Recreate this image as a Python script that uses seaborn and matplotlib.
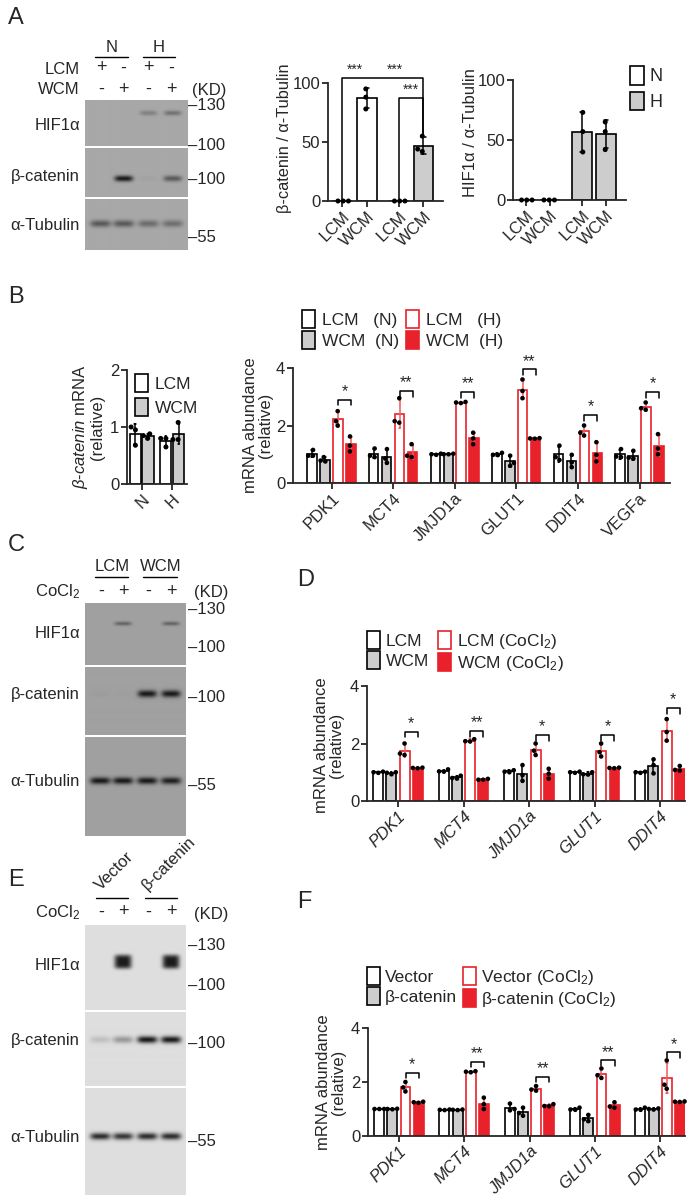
import numpy as np
import pandas as pd
import matplotlib
matplotlib.use("Agg")
import matplotlib.pyplot as plt
import seaborn as sns
from matplotlib.patches import Patch
from matplotlib.lines import Line2D

sns.set_style("ticks")
plt.rcParams["font.family"] = ["Liberation Sans", "DejaVu Sans"]
plt.rcParams["mathtext.fontset"] = "custom"
plt.rcParams["mathtext.rm"] = "Liberation Sans"
plt.rcParams["mathtext.it"] = "Liberation Sans:italic"
plt.rcParams["mathtext.bf"] = "Liberation Sans:bold"

# ------------------------------------------------------------------ data
# Panel A western blot (band darkness per lane)
A_lcm_signs = ["+", "-", "+", "-"]
A_wcm_signs = ["-", "+", "-", "+"]
A_hif_bands = [0.0, 0.0, 0.28, 0.38]
A_bcat_bands = [0.0, 1.0, 0.04, 0.55]
A_tub_bands = [0.55, 0.55, 0.42, 0.40]

# Panel A quantification
A_cond = ["N", "H"]
A_media = ["LCM", "WCM"]
A_bcat_LCM = [[0, 0, 0], [0, 0, 0]]          # N, H
A_bcat_WCM = [[95, 88, 78], [55, 44, 42]]
A_hif_LCM = [[0, 0, 0], [73, 57, 40]]
A_hif_WCM = [[0, 0, 0], [65, 57, 42]]
A_xlabels = ["LCM", "WCM", "LCM", "WCM"]
A_sig = ["***", "***", "***"]

# Panel B small: beta-catenin mRNA
Bs_cond = ["N", "H"]
Bs_LCM = [[1.0, 0.95, 0.68], [0.65, 0.80, 0.80]]
Bs_WCM = [[0.88, 0.85, 0.80], [1.08, 0.78, 0.78]]

# Panel B large: mRNA abundance
B_genes = ["PDK1", "MCT4", "JMJD1a", "GLUT1", "DDIT4", "VEGFa"]
B_LCM_N = [[1.15, 0.95, 0.95], [1.20, 0.95, 0.90], [1.02, 1.00, 0.98],
           [1.05, 0.98, 0.97], [1.30, 0.80, 0.90], [1.18, 0.90, 0.92]]
B_WCM_N = [[0.90, 0.75, 0.78], [1.18, 0.70, 0.85], [1.02, 1.00, 1.00],
           [0.95, 0.60, 0.70], [0.98, 0.55, 0.72], [1.12, 0.85, 0.88]]
B_LCM_H = [[2.50, 2.00, 2.15], [2.95, 2.15, 2.10], [2.82, 2.78, 2.80],
           [3.60, 2.95, 3.20], [2.00, 1.65, 1.75], [2.80, 2.55, 2.60]]
B_WCM_H = [[1.62, 1.10, 1.30], [1.35, 0.90, 0.95], [1.75, 1.35, 1.55],
           [1.56, 1.55, 1.54], [1.42, 0.75, 0.98], [1.70, 1.00, 1.20]]
B_sig = ["*", "**", "**", "**", "*", "*"]
B_sig_y = [2.9, 3.2, 3.17, 3.95, 2.37, 3.17]

# Panel C western blot
C_signs = ["-", "+", "-", "+"]
C_hif_bands = [0.0, 0.45, 0.0, 0.45]
C_bcat_bands = [0.03, 0.02, 1.0, 1.0]
C_tub_bands = [1.0, 1.0, 1.0, 0.95]

# Panel D
D_genes = ["PDK1", "MCT4", "JMJD1a", "GLUT1", "DDIT4"]
D_LCM = [[1.02, 0.98, 1.00], [1.10, 1.02, 1.03], [1.07, 1.02, 1.00],
         [1.02, 1.00, 0.98], [1.02, 0.98, 1.00]]
D_WCM = [[1.00, 0.93, 0.98], [0.88, 0.78, 0.80], [1.25, 0.70, 0.90],
         [1.00, 0.93, 0.92], [1.45, 1.25, 0.96]]
D_LCM_Co = [[2.00, 1.60, 1.65], [2.15, 2.08, 2.07], [2.00, 1.60, 1.75],
            [2.00, 1.55, 1.70], [2.85, 2.10, 2.40]]
D_WCM_Co = [[1.16, 1.15, 1.14], [0.77, 0.74, 0.74], [1.12, 0.78, 0.95],
            [1.16, 1.15, 1.14], [1.22, 1.08, 1.06]]
D_sig = ["*", "**", "*", "*", "*"]
D_sig_y = [2.41, 2.43, 2.30, 2.30, 3.23]

# Panel E western blot
E_signs = ["-", "+", "-", "+"]
E_hif_bands = [0.0, 1.0, 0.0, 1.0]
E_bcat_bands = [0.15, 0.35, 1.0, 1.0]
E_tub_bands = [0.9, 0.85, 0.9, 0.9]

# Panel F
F_genes = ["PDK1", "MCT4", "JMJD1a", "GLUT1", "DDIT4"]
F_V = [[1.00, 1.00, 1.00], [0.98, 0.97, 0.96], [1.20, 0.95, 1.00],
       [1.05, 0.98, 0.97], [1.05, 0.98, 0.97]]
F_B = [[1.01, 1.00, 0.99], [0.98, 0.97, 0.96], [1.05, 0.75, 0.85],
       [0.78, 0.55, 0.62], [1.02, 1.00, 0.98]]
F_V_Co = [[2.00, 1.65, 1.80], [2.40, 2.38, 2.36], [1.85, 1.68, 1.72],
          [2.50, 2.15, 2.25], [2.80, 1.75, 1.90]]
F_B_Co = [[1.27, 1.25, 1.23], [1.42, 1.00, 1.18], [1.18, 1.10, 1.11],
          [1.25, 1.05, 1.09], [1.28, 1.27, 1.26]]
F_sig = ["*", "**", "**", "**", "*"]
F_sig_y = [2.33, 2.74, 2.20, 2.80, 3.10]

# ------------------------------------------------------------------ helpers
W, H = 693, 1199
RED = "#e8212b"
ERR_RED = "#ef5a5a"
GRAY = "#cdcdcd"
FS = 12

fig = plt.figure(figsize=(W / 100, H / 100), dpi=100)


def px_axes(x0, yt, x1, yb):
    return fig.add_axes([x0 / W, 1 - yb / H, (x1 - x0) / W, (yb - yt) / H])


def ftext(x, y, s, **kw):
    kw.setdefault("fontsize", FS)
    kw.setdefault("va", "center")
    return fig.text(x / W, 1 - y / H, s, **kw)


def hline(x0, x1, y, lw=1.0):
    fig.add_artist(Line2D([x0 / W, x1 / W], [1 - y / H, 1 - y / H],
                          transform=fig.transFigure, color="k", lw=lw))


def long_df(cats, hues, series):
    rows = []
    for hue, per_cat in zip(hues, series):
        for cat, vals in zip(cats, per_cat):
            for v in vals:
                rows.append((cat, hue, v))
    return pd.DataFrame(rows, columns=["cat", "hue", "val"])


def bar_panel(ax, cats, hues, series, faces, edges, errs, width, gap,
              capsize=0.3, size=3.6):
    df = long_df(cats, hues, series)
    sns.barplot(data=df, x="cat", y="val", hue="hue", order=cats,
                hue_order=hues, errorbar="sd", width=width, gap=gap,
                capsize=capsize, saturation=1,
                palette=dict(zip(hues, ["w"] * len(hues))),
                linewidth=1.2, edgecolor="k",
                err_kws={"linewidth": 1.1, "color": "k"},
                legend=False, ax=ax)
    centers = []
    info = []
    for hi, cont in enumerate(ax.containers):
        row = []
        for ci, p in enumerate(cont):
            p.set_facecolor(faces[hi][ci])
            p.set_edgecolor(edges[hi][ci])
            xc = p.get_x() + p.get_width() / 2
            row.append(xc)
            info.append((xc, errs[hi][ci]))
        centers.append(row)
    xs = np.array([i[0] for i in info])
    for ln in ax.lines:
        xc = np.nanmean(ln.get_xdata())
        ln.set_color(info[int(np.argmin(np.abs(xs - xc)))][1])
    sns.swarmplot(data=df, x="cat", y="val", hue="hue", order=cats,
                  hue_order=hues, dodge=True,
                  palette=dict(zip(hues, ["k"] * len(hues))), size=size,
                  legend=False, ax=ax, zorder=4)
    for c in ax.collections:
        c.set_clip_on(False)
    return centers


def style_axes(ax, ylim, yticks, xlim, italic=False):
    ax.set_ylim(*ylim)
    ax.set_yticks(yticks)
    ax.set_xlim(*xlim)
    ax.set_xlabel("")
    ax.set_ylabel("")
    sns.despine(ax=ax)
    for s in ["left", "bottom"]:
        ax.spines[s].set_linewidth(1.3)
    ax.tick_params(width=1.3, length=4, labelsize=FS, pad=1.5)
    for t in ax.get_xticklabels():
        t.set_rotation(45)
        t.set_ha("right")
        t.set_rotation_mode("anchor")
        if italic:
            t.set_fontstyle("italic")


def gene_brackets(ax, centers, ys, labels, leg=0.2):
    for g, (yv, lab) in enumerate(zip(ys, labels)):
        x1, x2 = centers[2][g], centers[3][g]
        ax.plot([x1, x1, x2, x2], [yv - leg, yv, yv, yv - leg], color="k",
                lw=1.1, clip_on=False)
        ax.text((x1 + x2) / 2, yv + 0.02, lab, ha="center", va="bottom",
                fontsize=11.5)


LANES = [0.15, 0.375, 0.615, 0.85]


def blot(x0, x1, panels, bg):
    for (yt, yb, inten, ycf, sy, sxf, py) in panels:
        ax = px_axes(x0, yt, x1, yb)
        h = int(round(yb - yt)) * 3
        w = int(round(x1 - x0)) * 3
        yy, xx = np.mgrid[0:h, 0:w]
        img = np.full((h, w), bg, dtype=float)
        for i, I in enumerate(inten):
            if I <= 0:
                continue
            xc = LANES[i] * w
            yc = ycf * h
            prof = (I * np.exp(-np.abs((yy - yc) / (sy * 3)) ** py)
                    * np.exp(-np.abs((xx - xc) / (sxf * w)) ** 4))
            img -= prof * (bg - 0.1)
        ax.imshow(np.clip(img, 0, 1), cmap="gray", vmin=0, vmax=1,
                  aspect="auto", extent=[0, 1, 1, 0],
                  interpolation="bilinear")
        ax.axis("off")


def signs_row(y, signs, xs=(101, 123, 148, 171)):
    for x, s in zip(xs, signs):
        ftext(x, y, s, ha="center", fontsize=13)


# ------------------------------------------------------------------ Panel A
ftext(8, 18, "A", fontsize=17, ha="left")
ftext(112, 47, "N", ha="center")
ftext(159, 47, "H", ha="center")
hline(95, 128, 57)
hline(143, 175, 57)
ftext(80, 69, "LCM", ha="right")
ftext(80, 90, "WCM", ha="right")
signs_row(68, A_lcm_signs)
signs_row(89, A_wcm_signs)
ftext(192, 90, "(KD)", ha="left")
blot(85, 187, [(100, 146, A_hif_bands, 0.28, 2.5, 0.085, 2),
               (148, 197, A_bcat_bands, 0.62, 3.0, 0.09, 2),
               (199, 250, A_tub_bands, 0.48, 3.5, 0.1, 2)], bg=0.66)
ftext(80, 125, "HIF1α", ha="right")
ftext(80, 177, "β-catenin", ha="right")
ftext(80, 226, "α-Tubulin", ha="right")
for y, s in [(106, "–130"), (146, "–100"), (180, "–100"), (238, "–55")]:
    ftext(188, y, s, ha="left")

# A1: beta-catenin / tubulin
axA1 = px_axes(328, 83, 443, 201)
cA1 = bar_panel(axA1, A_cond, A_media, [A_bcat_LCM, A_bcat_WCM],
                faces=[["w", GRAY], ["w", GRAY]],
                edges=[["k", "k"], ["k", "k"]],
                errs=[["k", "k"], ["k", "k"]], width=0.88, gap=0.2,
                capsize=0.15)
bx = sorted([cA1[0][0], cA1[1][0], cA1[0][1], cA1[1][1]])
axA1.set_xticks(bx)
axA1.set_xticklabels(A_xlabels)
style_axes(axA1, (0, 100), [0, 50, 100], (-0.469, 1.566))
top4 = np.mean(A_bcat_WCM[1]) + np.std(A_bcat_WCM[1], ddof=1)
axA1.plot([bx[0], bx[0], bx[3], bx[3]], [0, 104, 104, top4], color="k",
          lw=1.1, clip_on=False)
axA1.plot([bx[2], bx[2], bx[3], bx[3]], [0, 87, 87, top4], color="k",
          lw=1.1, clip_on=False)
for (i, j), yv, lab in zip([(0, 1), (1, 3), (2, 3)], [105, 105, 88], A_sig):
    axA1.text((bx[i] + bx[j]) / 2, yv, lab, ha="center", va="bottom",
              fontsize=10, clip_on=False)
ftext(284, 138, "β-catenin / α-Tubulin", rotation=90, ha="center",
      fontsize=11.8)

# A2: HIF1a / tubulin
axA2 = px_axes(513, 80, 626, 200)
cA2 = bar_panel(axA2, A_cond, A_media, [A_hif_LCM, A_hif_WCM],
                faces=[["w", GRAY], ["w", GRAY]],
                edges=[["k", "k"], ["k", "k"]],
                errs=[["k", "k"], ["k", "k"]], width=0.88, gap=0.2,
                capsize=0.15)
bx2 = sorted([cA2[0][0], cA2[1][0], cA2[0][1], cA2[1][1]])
axA2.set_xticks(bx2)
axA2.set_xticklabels(A_xlabels)
style_axes(axA2, (0, 100), [0, 50, 100], (-0.446, 1.571))
ftext(470, 133, "HIF1α / α-Tubulin", rotation=90, ha="center")
fig.legend([Patch(facecolor="w", edgecolor="k", lw=1.2),
            Patch(facecolor=GRAY, edgecolor="k", lw=1.2)], A_cond,
           loc="upper left", bbox_to_anchor=(630 / W, 1 - 66 / H),
           frameon=False, fontsize=13, handlelength=0.75, handleheight=1.2,
           handletextpad=0.35, labelspacing=0.35, borderpad=0,
           borderaxespad=0)

# ------------------------------------------------------------------ Panel B
ftext(8, 297, "B", fontsize=17, ha="left")
axBs = px_axes(127, 370, 187, 484)
bar_panel(axBs, Bs_cond, A_media, [Bs_LCM, Bs_WCM],
          faces=[["w", "w"], [GRAY, GRAY]], edges=[["k", "k"], ["k", "k"]],
          errs=[["k", "k"], ["k", "k"]], width=0.85, gap=0.15,
          capsize=0.12, size=3.6)
style_axes(axBs, (0, 2), [0, 1, 2], (-0.475, 1.49))
ftext(88, 427, "$\\mathit{β}$-$\\mathit{catenin}$ mRNA\n(relative)",
      rotation=90, ha="center", linespacing=1.0)
fig.legend([Patch(facecolor="w", edgecolor="k", lw=1.2),
            Patch(facecolor=GRAY, edgecolor="k", lw=1.2)], A_media,
           loc="upper left", bbox_to_anchor=(135 / W, 1 - 374 / H),
           frameon=False, fontsize=12.5, handlelength=0.75,
           handleheight=1.2, handletextpad=0.4, labelspacing=0.35,
           borderpad=0, borderaxespad=0)

axB = px_axes(293, 368, 670, 483)
n6 = len(B_genes)
cB = bar_panel(axB, B_genes, ["LCM (N)", "WCM (N)", "LCM (H)", "WCM (H)"],
               [B_LCM_N, B_WCM_N, B_LCM_H, B_WCM_H],
               faces=[["w"] * n6, [GRAY] * n6, ["w"] * n6, [RED] * n6],
               edges=[["k"] * n6, ["k"] * n6, [RED] * n6, [RED] * n6],
               errs=[["k"] * n6, ["k"] * n6, [ERR_RED] * n6, [ERR_RED] * n6],
               width=0.84, gap=0.27, capsize=0.1, size=3.3)
style_axes(axB, (0, 4), [0, 2, 4], (-0.625, 5.495))
gene_brackets(axB, cB, B_sig_y, B_sig)
ftext(258, 425, "mRNA abundance\n(relative)", rotation=90, ha="center",
      linespacing=0.95)
fig.legend([Patch(facecolor="w", edgecolor="k", lw=1.2),
            Patch(facecolor=GRAY, edgecolor="k", lw=1.2),
            Patch(facecolor="w", edgecolor=RED, lw=1.2),
            Patch(facecolor=RED, edgecolor=RED, lw=1.2)],
           ["LCM   (N)", "WCM  (N)", "LCM   (H)", "WCM  (H)"], ncol=2,
           loc="upper left", bbox_to_anchor=(302 / W, 1 - 310 / H),
           frameon=False, fontsize=12.5, handlelength=0.75,
           handleheight=1.2, handletextpad=0.4, labelspacing=0.2,
           columnspacing=0.4, borderpad=0, borderaxespad=0)

# ------------------------------------------------------------------ Panel C
ftext(8, 545, "C", fontsize=17, ha="left")
ftext(112, 567, "LCM", ha="center")
ftext(161, 567, "WCM", ha="center")
hline(95, 128, 577)
hline(143, 177, 577)
ftext(80, 592, "CoCl$_2$", ha="right")
signs_row(591, C_signs)
ftext(194, 593, "(KD)", ha="left")
blot(85, 186, [(603, 665, C_hif_bands, 0.33, 2.0, 0.085, 2),
               (667, 735, C_bcat_bands, 0.40, 3.5, 0.095, 2),
               (737, 836, C_tub_bands, 0.44, 3.5, 0.1, 2)], bg=0.63)
ftext(80, 633, "HIF1α", ha="right")
ftext(80, 694, "β-catenin", ha="right")
ftext(80, 781, "α-Tubulin", ha="right")
for y, s in [(609, "–130"), (647, "–100"), (697, "–100"), (785, "–55")]:
    ftext(188, y, s, ha="left")

# ------------------------------------------------------------------ Panel D
ftext(297, 580, "D", fontsize=17, ha="left")
axD = px_axes(367, 686, 685, 801)
n5 = len(D_genes)
cD = bar_panel(axD, D_genes, ["LCM", "WCM", "LCM (CoCl2)", "WCM (CoCl2)"],
               [D_LCM, D_WCM, D_LCM_Co, D_WCM_Co],
               faces=[["w"] * n5, [GRAY] * n5, ["w"] * n5, [RED] * n5],
               edges=[["k"] * n5, ["k"] * n5, [RED] * n5, [RED] * n5],
               errs=[["k"] * n5, ["k"] * n5, [ERR_RED] * n5, [ERR_RED] * n5],
               width=0.81, gap=0.25, capsize=0.1, size=3.3)
style_axes(axD, (0, 4), [0, 2, 4], (-0.473, 4.38), italic=True)
gene_brackets(axD, cD, D_sig_y, D_sig)
ftext(329, 745, "mRNA abundance\n(relative)", rotation=90, ha="center",
      linespacing=0.95)
fig.legend([Patch(facecolor="w", edgecolor="k", lw=1.2),
            Patch(facecolor=GRAY, edgecolor="k", lw=1.2),
            Patch(facecolor="w", edgecolor=RED, lw=1.2),
            Patch(facecolor=RED, edgecolor=RED, lw=1.2)],
           ["LCM", "WCM", "LCM (CoCl$_2$)", "WCM (CoCl$_2$)"], ncol=2,
           loc="upper left", bbox_to_anchor=(367 / W, 1 - 631 / H),
           frameon=False, fontsize=12.5, handlelength=0.75,
           handleheight=1.2, handletextpad=0.35, labelspacing=0.15,
           columnspacing=0.5, borderpad=0, borderaxespad=0)

# ------------------------------------------------------------------ Panel E
ftext(8, 880, "E", fontsize=17, ha="left")
ftext(103, 893, "Vector", ha="left", va="bottom", rotation=45,
      rotation_mode="anchor")
ftext(150, 893, "β-catenin", ha="left", va="bottom", rotation=45,
      rotation_mode="anchor")
hline(96, 128, 898)
hline(145, 177, 898)
ftext(80, 913, "CoCl$_2$", ha="right")
signs_row(912, E_signs)
ftext(194, 914, "(KD)", ha="left")
blot(85, 186, [(925, 1010, E_hif_bands, 0.43, 7.0, 0.085, 4),
               (1012, 1086, E_bcat_bands, 0.38, 3.5, 0.1, 2),
               (1088, 1195, E_tub_bands, 0.45, 3.5, 0.1, 2)], bg=0.87)
ftext(80, 966, "HIF1α", ha="right")
ftext(80, 1041, "β-catenin", ha="right")
ftext(80, 1138, "α-Tubulin", ha="right")
for y, s in [(946, "–130"), (986, "–100"), (1043, "–100"), (1141, "–55")]:
    ftext(188, y, s, ha="left")

# ------------------------------------------------------------------ Panel F
ftext(297, 902, "F", fontsize=17, ha="left")
axF = px_axes(368, 1028, 685, 1136)
cF = bar_panel(axF, F_genes,
               ["Vector", "β-catenin", "Vector (CoCl2)", "β-catenin (CoCl2)"],
               [F_V, F_B, F_V_Co, F_B_Co],
               faces=[["w"] * n5, [GRAY] * n5, ["w"] * n5, [RED] * n5],
               edges=[["k"] * n5, ["k"] * n5, [RED] * n5, [RED] * n5],
               errs=[["k"] * n5, ["k"] * n5, [ERR_RED] * n5, [ERR_RED] * n5],
               width=0.81, gap=0.25, capsize=0.1, size=3.3)
style_axes(axF, (0, 4), [0, 2, 4], (-0.473, 4.38), italic=True)
gene_brackets(axF, cF, F_sig_y, F_sig)
ftext(331, 1082, "mRNA abundance\n(relative)", rotation=90, ha="center",
      linespacing=0.95)
fig.legend([Patch(facecolor="w", edgecolor="k", lw=1.2),
            Patch(facecolor=GRAY, edgecolor="k", lw=1.2),
            Patch(facecolor="w", edgecolor=RED, lw=1.2),
            Patch(facecolor=RED, edgecolor=RED, lw=1.2)],
           ["Vector", "β-catenin", "Vector (CoCl$_2$)", "β-catenin (CoCl$_2$)"],
           ncol=2, loc="upper left", bbox_to_anchor=(367 / W, 1 - 967 / H),
           frameon=False, fontsize=12.5, handlelength=0.75,
           handleheight=1.2, handletextpad=0.3, labelspacing=0.15,
           columnspacing=0.3, borderpad=0, borderaxespad=0)

fig.savefig("out.png", dpi=100)
